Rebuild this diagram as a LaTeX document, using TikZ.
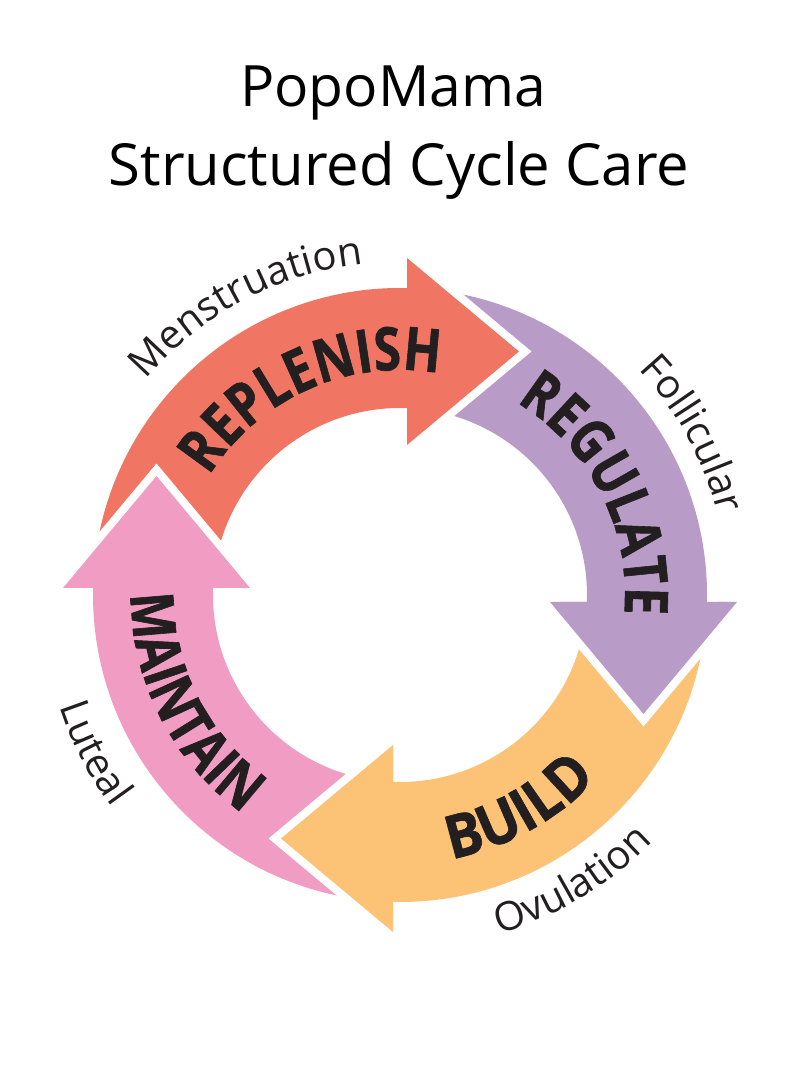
\documentclass[tikz,border=0pt]{standalone}
\usepackage{fontspec}
\setmainfont{Open Sans}
\newfontfamily\lblfont[FakeStretch=0.82, FakeBold=1]{Open Sans}
\newfontfamily\lblwide[FakeStretch=0.92, FakeBold=1]{Open Sans}
\usetikzlibrary{decorations.text}
\definecolor{cRed}{HTML}{F07562}
\definecolor{cPurple}{HTML}{B99BC8}
\definecolor{cOrange}{HTML}{FCC276}
\definecolor{cPink}{HTML}{F09CC3}
\definecolor{ink}{HTML}{231F20}
\newcommand\bigfmt{\fontsize{60}{60}\selectfont\lblfont\bfseries}
\newcommand\bigwidefmt{\fontsize{60}{60}\selectfont\lblwide\bfseries}
\newcommand\smallfmt{\fontsize{40}{40}\selectfont}
\tikzset{
  arrowbody/.style={insert path={(176:307) arc[start angle=176, end angle=88.69, radius=307] -- (7,337) -- (119,243.5) -- (7,150) -- (7,186.87) arc[start angle=87.855, end angle=176, radius=187] -- cycle}},
  headsides/.style={insert path={(7,337) -- (119,243.5) -- (7,150)}},
  headtri/.style={insert path={(7,337) -- (119,243.5) -- (7,150) -- cycle}},
  gap/.style={draw=white, line width=16pt, miter limit=10, line join=miter},
  bigword/.style={decorate, decoration={text along path, text align=center, text color=ink, text={|\bigfmt|#1}}},
  bigwideword/.style={decorate, decoration={text along path, text align=center, text color=ink, text={|\bigwidefmt|#1}}},
  phase/.style={decorate, decoration={text along path, text align=center, text color=ink, text={|\smallfmt|#1}}}
}
\begin{document}
\begin{tikzpicture}[x=1pt,y=1pt]
\fill[white] (0,0) rectangle (800,1067);
\useasboundingbox (0,0) rectangle (800,1067);
\node[anchor=base, inner sep=0pt, font=\fontsize{57}{57}\selectfont] (t1) at (393,960) {PopoMama};
\node[anchor=base, inner sep=0pt, font=\fontsize{58}{58}\selectfont] (t2) at (399,881) {Structured Cycle Care};
\begin{scope}[shift={(400,472)}]
  % full arrows
  \fill[cRed, arrowbody];
  \begin{scope}[rotate=-90]\fill[cPurple, arrowbody];\end{scope}
  \begin{scope}[rotate=-180]\fill[cOrange, arrowbody];\end{scope}
  \begin{scope}[rotate=90]\fill[cPink, arrowbody];\end{scope}
  % heads over the next tails
  \path[gap, headsides]; \fill[cRed, headtri];
  \begin{scope}[rotate=-90]\path[gap, headsides]; \fill[cPurple, headtri];\end{scope}
  \begin{scope}[rotate=-180]\path[gap, headsides]; \fill[cOrange, headtri];\end{scope}
  \begin{scope}[rotate=90]\path[gap, headsides]; \fill[cPink, headtri];\end{scope}
  % main words
  \path[bigword=REPLENISH] (154:225) arc[start angle=154, end angle=74, radius=225];
  \path[bigword=REGULATE] (67:225) arc[start angle=67, end angle=-13, radius=225];
  \path[bigwideword=BUILD] (259:269) arc[start angle=259, end angle=339, radius=269];
  \path[bigword=MAINTAIN] (167:269) arc[start angle=167, end angle=247, radius=269];
  % phase words
  \path[phase=Menstruation] (168:333) arc[start angle=168, end angle=68, radius=333];
  \path[phase=Follicular] (78.8:328) arc[start angle=78.8, end angle=-21.2, radius=328];
  \path[phase=Ovulation] (-109:353) arc[start angle=-109, end angle=-9, radius=353];
  \path[phase=Luteal] (157.3:358) arc[start angle=157.3, end angle=257.3, radius=358];
\end{scope}
\end{tikzpicture}
\end{document}
